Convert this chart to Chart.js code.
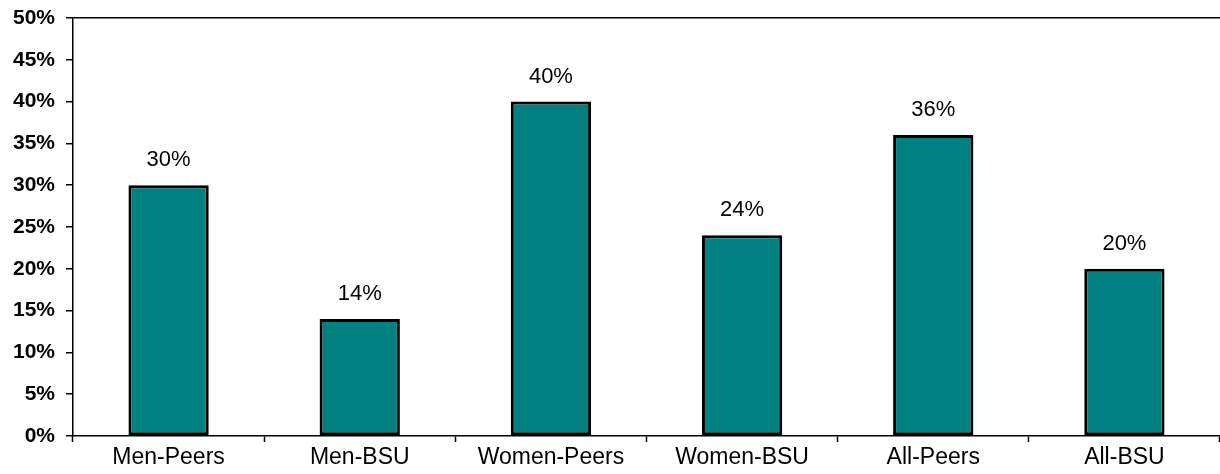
<!DOCTYPE html>
<html>
<head>
<meta charset="utf-8">
<script src="https://cdn.jsdelivr.net/npm/chart.js@4.4.1/dist/chart.umd.min.js"></script>
<style>
  html, body { margin: 0; padding: 0; background: #fff; }
  canvas { display: block; }
</style>
</head>
<body>
<canvas id="chart" width="1220" height="474"></canvas>
<script>
const categories = ["Men-Peers", "Men-BSU", "Women-Peers", "Women-BSU", "All-Peers", "All-BSU"];
const shares = [30, 14, 40, 24, 36, 20];
const yTicks = [0, 5, 10, 15, 20, 25, 30, 35, 40, 45, 50];

const FONT = "'Liberation Sans', Arial, sans-serif";

// etiquetas encima de cada barra
const barLabels = {
    id: "barLabels",
    afterDatasetsDraw(chart) {
        const ctx = chart.ctx;
        const meta = chart.getDatasetMeta(0);
        ctx.save();
        ctx.font = "22px " + FONT;
        ctx.fillStyle = "#000";
        ctx.textAlign = "center";
        ctx.textBaseline = "bottom";
        meta.data.forEach((bar, i) => {
            ctx.fillText(shares[i] + "%", bar.x, bar.y - 14);
        });
        ctx.restore();
    }
};

new Chart(document.getElementById("chart"), {
    type: "bar",
    data: {
        labels: categories,
        datasets: [{
            data: shares,
            backgroundColor: "#008080",
            borderColor: "#000",
            borderWidth: 3,
            borderSkipped: false,
            barPercentage: 0.42,
            categoryPercentage: 1
        }]
    },
    options: {
        responsive: false,
        animation: false,
        layout: { padding: { top: 18, right: 0, left: 0, bottom: 0 } },
        plugins: {
            legend: { display: false },
            tooltip: { enabled: false }
        },
        scales: {
            x: {
                afterFit: scale => { scale.height = 38; scale.paddingRight = 0; scale.paddingLeft = 0; },
                grid: { offset: true, drawOnChartArea: false, tickLength: 6, tickColor: "#000", tickWidth: 1.5 },
                border: { color: "#000", width: 1.5 },
                ticks: { color: "#000", font: { family: FONT, size: 23 }, padding: 2, maxRotation: 0, autoSkip: false }
            },
            y: {
                min: 0,
                max: 50,
                afterFit: scale => { scale.width = 73; scale.paddingTop = 0; scale.paddingBottom = 0; },
                afterBuildTicks: scale => { scale.ticks = yTicks.map(v => ({ value: v })); },
                grid: {
                    drawOnChartArea: true,
                    color: ctx => (ctx.tick && ctx.tick.value === 50 ? "#000" : "rgba(0,0,0,0)"),
                    lineWidth: 1.5,
                    tickColor: "#000",
                    tickLength: 7,
                    tickWidth: 1.5
                },
                border: { color: "#000", width: 1.5 },
                ticks: { color: "#000", font: { family: FONT, size: 21, weight: "bold" }, padding: 11, callback: v => v + "%" }
            }
        }
    },
    plugins: [barLabels]
});
</script>
</body>
</html>
